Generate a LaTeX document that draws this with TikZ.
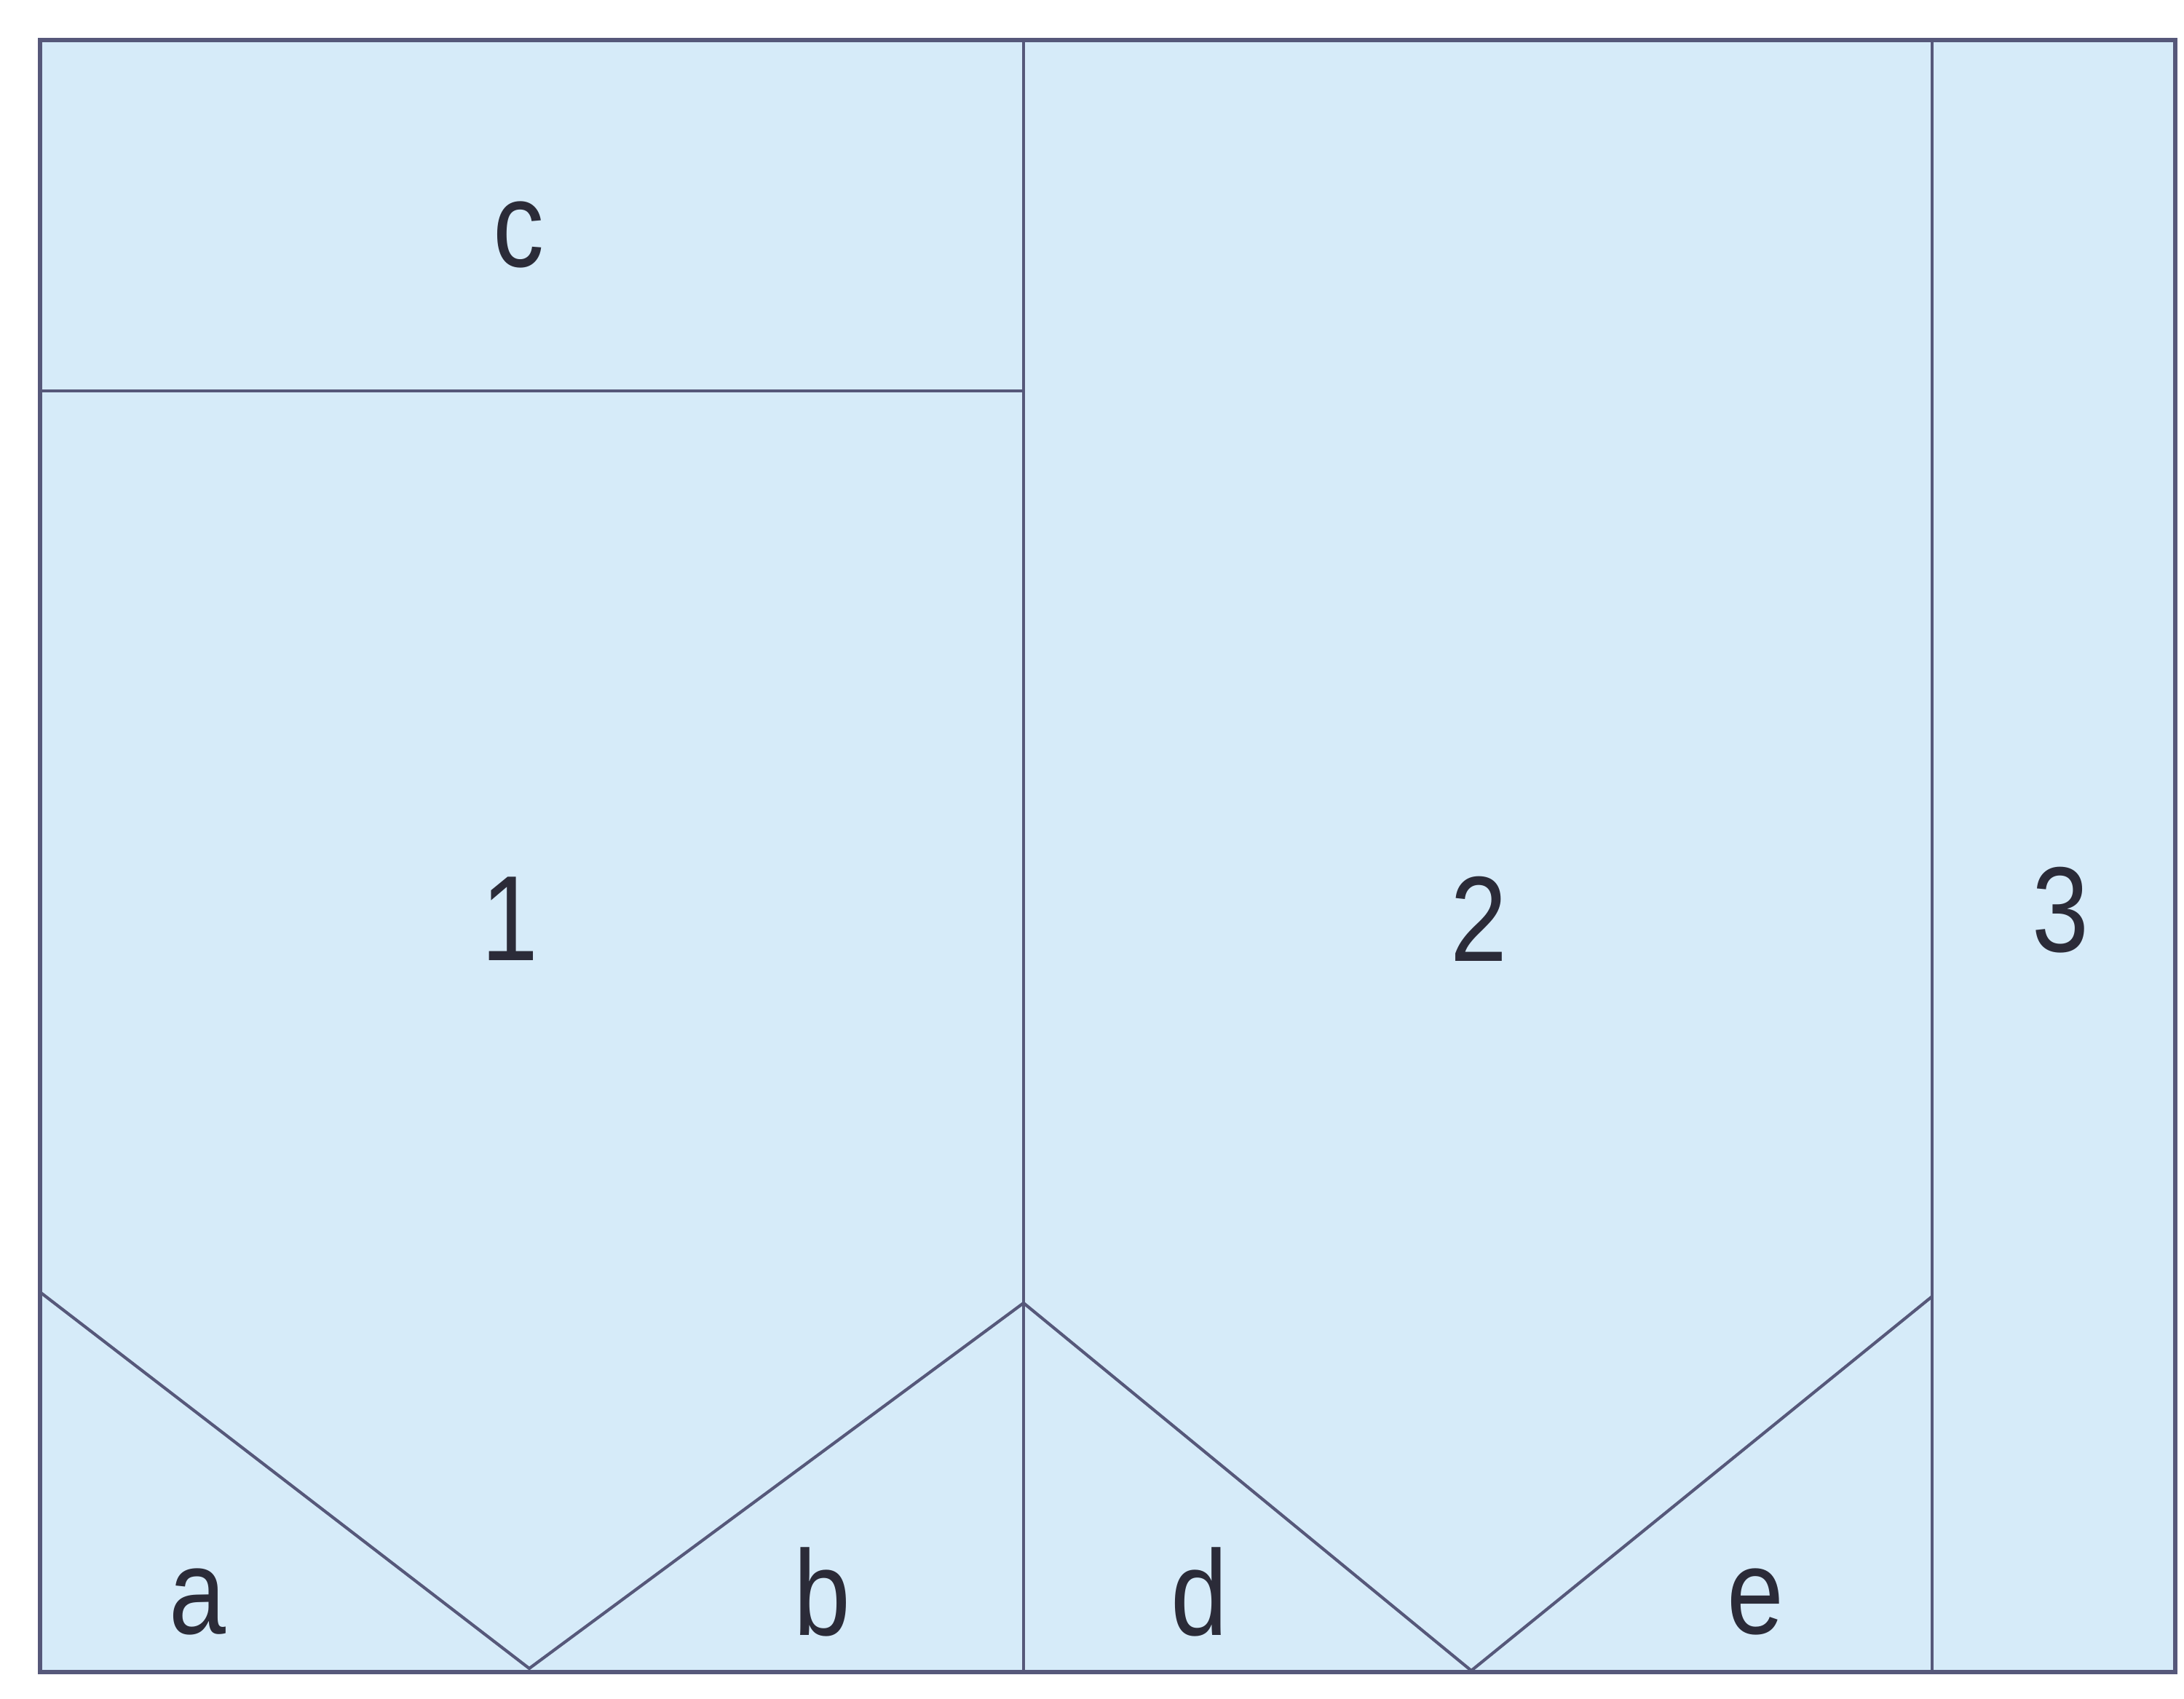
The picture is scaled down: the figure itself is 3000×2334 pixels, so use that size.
\documentclass[tikz,border=0pt]{standalone}
\usepackage{fontspec}
\setmainfont{Liberation Sans}[FakeStretch=0.84]
\definecolor{panelfill}{HTML}{D6EBF9}
\definecolor{seamline}{HTML}{56587A}
\definecolor{labeltext}{HTML}{2B2B38}
\tikzset{every picture/.style={line width=1pt}}
\tikzset{
  seam/.style={draw=seamline, line width=1pt},
  border/.style={draw=seamline, line width=1.4pt},
  piece label/.style={text=labeltext, inner sep=0.75pt, font=\fontsize{40}{48}\selectfont}
}
\begin{document}
\begin{tikzpicture}[x=0.24pt,y=0.24pt,yscale=-1,xscale=1]
\useasboundingbox (0,0) rectangle (3000,2334);

%Shape: Rectangle [id:outer]
\fill [panelfill] (55,55) rectangle (2988,2297) ;
%Straight Lines [id:seam12]
\draw [seam] (1406,55) -- (1406,2297) ;
%Straight Lines [id:seam23]
\draw [seam] (2654,55) -- (2654,2297) ;
%Straight Lines [id:seamc]
\draw [seam] (55,537) -- (1406,537) ;
%Straight Lines [id:zigzag]
\draw [seam] (55,1775) -- (727,2292) -- (1406,1790) -- (2021,2295) -- (2654,1781) ;
%Shape: Rectangle [id:outerline]
\draw [border] (55,55) rectangle (2988,2297) ;

% Text Node
\node [piece label] (lc) at (712,322) {c};
% Text Node
\node [piece label] (l1) at (700,1262) {1};
% Text Node
\node [piece label] (l2) at (2031,1262) {2};
% Text Node
\node [piece label] (l3) at (2830,1250) {3};
% Text Node
\node [piece label] (la) at (271,2200) {a};
% Text Node
\node [piece label] (lb) at (1129,2187) {b};
% Text Node
\node [piece label] (ld) at (1647,2187) {d};
% Text Node
\node [piece label] (le) at (2411,2200) {e};

\end{tikzpicture}
\end{document}
